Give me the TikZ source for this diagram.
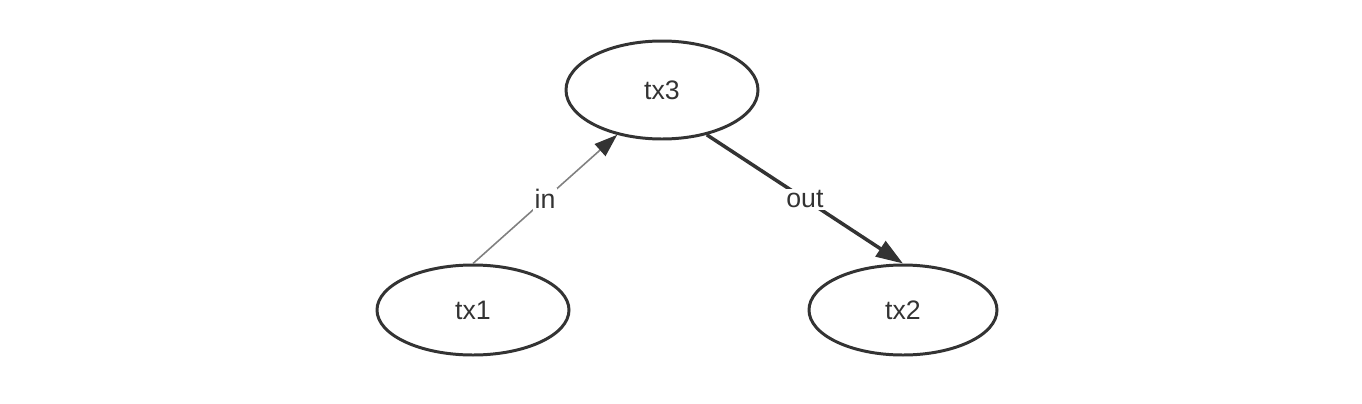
\documentclass[tikz,border=0pt]{standalone}
\usepackage{fontspec}
\setmainfont{Liberation Sans}
\usetikzlibrary{shapes.geometric,arrows.meta}
\tikzset{
    tx/.style={draw=black!80, line width=0.85pt, shape=ellipse, minimum width=1.92cm, minimum height=0.9cm, inner sep=0pt},
    lbl/.style={fill=white, text=black!80, inner sep=0.5pt}
}
\begin{document}
\begin{tikzpicture}[font=\fontsize{7.6}{9}\selectfont, text=black!80]
            \useasboundingbox (0, 0) rectangle (13.62, -4.04);
            \node (tx3) at (6.62, -0.90) [tx, minimum height=0.98cm] {tx3};
            \node (tx1) at (4.73, -3.10) [tx] {tx1};
            \node (tx2) at (9.03, -3.10) [tx, minimum width=1.88cm] {tx2};
            
            \draw[black!50, line width=0.45pt, -{Triangle[length=0.23cm, width=0.16cm, color=black!80, fill=black!80]}] (tx1.north) -- (tx3.225) node[lbl, midway] {in};
            \draw[black!80, line width=1pt, -{Triangle[length=0.27cm, width=0.18cm]}] (tx3.-45) -- (tx2.north) node[lbl, midway] {out};
            
        \end{tikzpicture}
\end{document}
